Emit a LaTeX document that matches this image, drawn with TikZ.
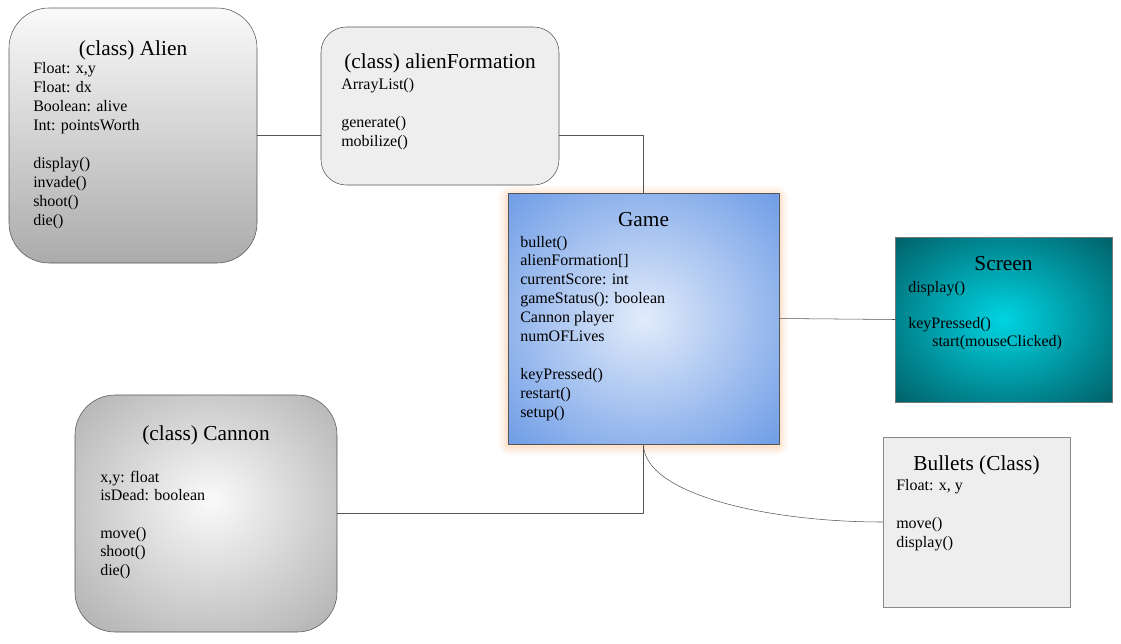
\documentclass[tikz,border=0pt]{standalone}
\usepackage{fontspec}
\setmainfont{Liberation Serif}
\definecolor{edge}{HTML}{555555}
\definecolor{lightedge}{HTML}{888888}
\definecolor{paper}{HTML}{EEEEEE}
\definecolor{alientop}{HTML}{FAFAFA}
\definecolor{alienbot}{HTML}{ABABAB}
\definecolor{gamein}{HTML}{E2EBFA}
\definecolor{gameout}{HTML}{6C9BE6}
\definecolor{screenin}{HTML}{00D4E2}
\definecolor{screenout}{HTML}{005E66}
\definecolor{cannonin}{HTML}{FAFAFA}
\definecolor{cannonout}{HTML}{ABABAB}
\definecolor{glow}{HTML}{F6B98A}
\pgfdeclareradialshading{gameshade}{\pgfpoint{0bp}{0bp}}{color(0bp)=(gamein); color(36bp)=(gameout); color(50bp)=(gameout)}
\pgfdeclareradialshading{screenshade}{\pgfpoint{0bp}{0bp}}{color(0bp)=(screenin); color(36bp)=(screenout); color(50bp)=(screenout)}
\pgfdeclareradialshading{cannonshade}{\pgfpoint{1bp}{3bp}}{color(0bp)=(cannonin); color(38bp)=(cannonout); color(50bp)=(cannonout)}
\begin{document}
\begin{tikzpicture}[x=0.75pt,y=-0.75pt,line join=round,line cap=round,font=\rmfamily\fontsize{12}{14.25}\selectfont,
classbox/.style={draw=edge,inner sep=0pt},
title/.style={font=\rmfamily\fontsize{16}{19}\selectfont,anchor=base,inner sep=0pt},
member/.style={anchor=base west,inner sep=0pt},
link/.style={draw=edge,thin}]
\useasboundingbox (0,0) rectangle (1121,643);
% glow round Game
\foreach \r/\o in {10/0.05,8/0.07,6/0.09,4/0.12,2/0.15}{
\fill[glow,opacity=\o,rounded corners=\r pt] (508-\r,193-\r+2) rectangle (779+\r,444+\r+2);
}
% boxes
\node[classbox,rounded corners=30pt,top color=alientop,bottom color=alienbot,minimum width=186pt,minimum height=191.25pt] (alien) at (133,135.5) {};
\node[classbox,rounded corners=19pt,fill=paper,minimum width=178.5pt,minimum height=118.5pt] (formation) at (440,106) {};
\node[classbox,shading=gameshade,minimum width=203.25pt,minimum height=188.25pt] (game) at (643.5,318.5) {};
\node[classbox,draw=edge!80,shading=screenshade,minimum width=162.75pt,minimum height=123.75pt] (screen) at (1003.5,319.5) {};
\node[classbox,rounded corners=30pt,shading=cannonshade,minimum width=196.5pt,minimum height=177.75pt] (cannon) at (206,513.5) {};
\node[classbox,draw=lightedge,fill=paper,minimum width=140.25pt,minimum height=127.5pt] (bullets) at (976.5,522) {};
% titles
\node[title] (alientitle) at (133,55) {(class) Alien};
\node[title] (formationtitle) at (440,68) {(class) alienFormation};
\node[title] (gametitle) at (643.5,226) {Game};
\node[title] (screentitle) at (1003.5,270) {Screen};
\node[title] (cannontitle) at (206,440) {(class) Cannon};
\node[title] (bulletstitle) at (976.5,470) {Bullets (Class)};
% members
\foreach \m [count=\i from 0] in {{Float: x,y},{Float: dx},{Boolean: alive},{Int: pointsWorth},{},display(),invade(),shoot(),die()}{
\node[member] (alien-\i) at (33,73.5+19*\i) {\m};
}
\foreach \m [count=\i from 0] in {ArrayList(),{},generate(),mobilize()}{
\node[member] (formation-\i) at (341,89+19*\i) {\m};
}
\foreach \m [count=\i from 0] in {bullet(),alienFormation[],{currentScore: int},{gameStatus(): boolean},Cannon player,numOFLives,{},keyPressed(),restart(),setup()}{
\node[member] (game-\i) at (520,247+18.9*\i) {\m};
}
\foreach \m [count=\i from 0] in {display(),{},keyPressed(),{\hspace*{18pt}start(mouseClicked)}}{
\node[member] (screen-\i) at (908,292+18.3*\i) {\m};
}
\foreach \m [count=\i from 0] in {{x,y: float},{isDead: boolean},{},move(),shoot(),die()}{
\node[member] (cannon-\i) at (100,482+18.7*\i) {\m};
}
\foreach \m [count=\i from 0] in {{Float: x, y},{},move(),display()}{
\node[member] (bullets-\i) at (896,490+19*\i) {\m};
}
% links
\draw[link] (alien.east) -- (alien.east -| formation.west);
\draw[link] (alien.east -| formation.east) -| (game.north);
\draw[link] (game.east) -- (screen.west);
\draw[link] (game.south) |- (cannon.east);
\draw[link] (game.south) to[out=-90,in=180,out looseness=0.5,in looseness=1.2] (bullets.west);
\end{tikzpicture}
\end{document}
